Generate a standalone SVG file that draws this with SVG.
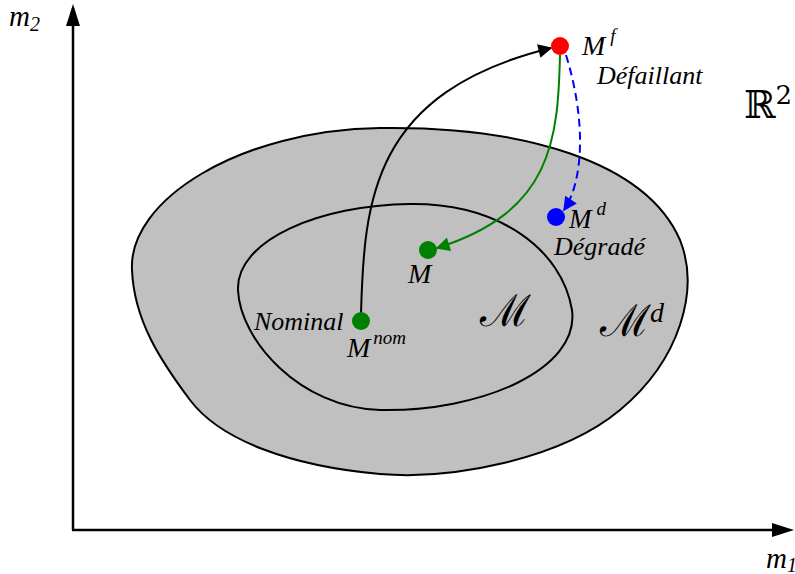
<svg xmlns="http://www.w3.org/2000/svg" width="795" height="574" viewBox="0 0 795 574">
<defs>
<style>
.t{font-family:'Liberation Serif','Times New Roman',Times,serif;font-style:italic;fill:#000}
.m{font-family:'DejaVu Serif','Liberation Serif',serif;fill:#000}
.ln{fill:none;stroke-width:2}
</style>
<marker id="ab" viewBox="0 0 10 10" refX="9" refY="5" markerWidth="20" markerHeight="14" markerUnits="userSpaceOnUse" orient="auto"><path d="M0,0 L10,5 L0,10 Z" fill="#000"/></marker>
<marker id="ag" viewBox="0 0 10 10" refX="9" refY="5" markerWidth="20" markerHeight="14" markerUnits="userSpaceOnUse" orient="auto"><path d="M0,0 L10,5 L0,10 Z" fill="#008000"/></marker>
<marker id="abl" viewBox="0 0 10 10" refX="9" refY="5" markerWidth="16" markerHeight="14" markerUnits="userSpaceOnUse" orient="auto"><path d="M0,0 L10,5 L0,10 Z" fill="#0000ff"/></marker>
</defs>
<g id="axes">
<line x1="73" y1="530" x2="73" y2="8" stroke="#000" stroke-width="2.5"/>
<path d="M73,4 L66,26 L80,26 Z" fill="#000"/>
<line x1="72" y1="530" x2="775" y2="530" stroke="#000" stroke-width="2.5"/>
<path d="M794,530 L772,523 L772,537 Z" fill="#000"/>
<text class="t" x="9" y="26" font-size="29">m<tspan font-size="20" dy="5">2</tspan></text>
<text class="t" x="766" y="568" font-size="29">m<tspan font-size="20" dy="4">1</tspan></text>
</g>
<g id="outer-set">
<path d="M132,270 C128,200 240,130 380,128 C520,126 645,160 680,240 C700,290 680,360 620,410 C560,460 450,480 380,474 C290,466 220,440 190,400 C160,360 134,320 132,270 Z" fill="#c0c0c0" stroke="#000" stroke-width="2"/>
<text class="m" x="600" y="336" font-size="44">ℳ</text>
<text class="t" x="650" y="322" font-size="28">d</text>
<text class="m" x="744" y="118" font-size="38">ℝ<tspan font-size="26" dy="-14">2</tspan></text>
</g>
<g id="inner-set">
<path d="M238,290 C236,240 320,205 410,204 C500,203 562,250 572,310 C580,370 480,412 380,410 C300,408 240,340 238,290 Z" fill="none" stroke="#000" stroke-width="2"/>
<text class="m" x="480" y="326" font-size="44">ℳ</text>
</g>
<g id="connectors">
<path class="ln" d="M361,314 C364,200 372,92 551,48" stroke="#000" marker-end="url(#ab)"/>
<path class="ln" d="M560,55 C558,140 552,212 437,248" stroke="#008000" marker-end="url(#ag)"/>
<path class="ln" d="M566,55 C586,120 584,180 564,210" stroke="#0000ff" stroke-dasharray="8,5" marker-end="url(#abl)"/>
</g>
<g id="node-Mf">
<circle cx="560" cy="46" r="9" fill="#ff0000"/>
<text class="t" x="582" y="55" font-size="28">M<tspan font-size="19" dx="5" dy="-13">f</tspan></text>
<text class="t" x="597" y="84" font-size="26">Défaillant</text>
</g>
<g id="node-Md">
<circle cx="556" cy="217" r="9" fill="#0000ff"/>
<text class="t" x="569" y="228" font-size="27">M<tspan font-size="19" dx="5" dy="-13">d</tspan></text>
<text class="t" x="554" y="255" font-size="26">Dégradé</text>
</g>
<g id="node-M">
<circle cx="428" cy="250" r="9" fill="#008000"/>
<text class="t" x="408" y="283" font-size="28">M</text>
</g>
<g id="node-Mnom">
<circle cx="361" cy="321" r="9" fill="#008000"/>
<text class="t" x="254" y="330" font-size="26">Nominal</text>
<text class="t" x="347" y="357" font-size="28">M<tspan font-size="19" dx="3" dy="-13">nom</tspan></text>
</g>
</svg>
